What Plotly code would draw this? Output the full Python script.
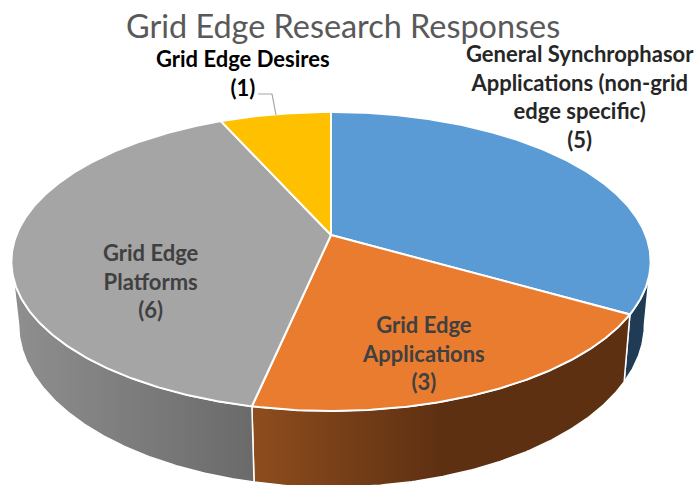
import math
import plotly.graph_objects as go

categories = ["General Synchrophasor Applications (non-grid edge specific)", "Grid Edge Applications", "Grid Edge Platforms", "Grid Edge Desires"]
values = [5, 3, 6, 1]
label_texts = [
    "General Synchrophasor<br>Applications (non-grid<br>edge specific)<br>(5)",
    "Grid Edge<br>Applications<br>(3)",
    "Grid Edge<br>Platforms<br>(6)",
    "Grid Edge Desires<br>(1)",
]
top_colors = ["#5b9bd5", "#ea7c30", "#a5a5a5", "#ffc000"]
wall_scales = [["#203c55", "#203c55"], ["#8e4d1e", "#5e3012", "#5e3012"], ["#8f8f8f", "#6a6a6a"], None]
label_xy = [(580, 96), (423, 353), (151, 281), (243, 73)]
label_colors = ["#262626", "#404040", "#404040", "#000000"]
title_text = "Grid Edge Research Responses"

# perspective projection of the pie disc
K = 0.177
TOP = dict(cx=331.0, cy=235.0, a=314.6, b=144.8)
BOT = dict(cx=331.5, cy=295.5, a=308.0, b=157.7)


def project(theta_deg, p):
    t = math.radians(theta_deg)
    u, v = math.sin(t), math.cos(t)
    d = 1 + K * v
    return p["cx"] + p["a"] * u / d, p["cy"] - p["b"] * v / d


def arc(t0, t1, p):
    n = max(2, int(abs(t1 - t0) * 2))
    pts = [project(t0 + (t1 - t0) * i / n, p) for i in range(n + 1)]
    return [q[0] for q in pts], [q[1] for q in pts]


total = sum(values)
edges = [0.0]
for val in values:
    edges.append(edges[-1] + 360.0 * val / total)

tangent = math.degrees(math.acos(-K))  # silhouette of the cylinder
fig = go.Figure()

# side walls
for i, scale in enumerate(wall_scales):
    if scale is None:
        continue
    t0 = max(edges[i], tangent)
    t1 = min(edges[i + 1], 360 - tangent)
    xa, ya = arc(t0, t1, TOP)
    xb, yb = arc(t1, t0, BOT)
    n = len(scale) - 1
    fig.add_trace(go.Scatter(
        x=xa + xb + xa[:1], y=ya + yb + ya[:1], mode="lines", fill="toself",
        fillgradient=dict(type="horizontal",
                          colorscale=[[j / n, c] for j, c in enumerate(scale)]),
        line=dict(color="#ffffff", width=1.5), hoverinfo="skip", showlegend=False,
    ))

# top faces
for i, cat in enumerate(categories):
    xa, ya = arc(edges[i], edges[i + 1], TOP)
    fig.add_trace(go.Scatter(
        x=[TOP["cx"]] + xa + [TOP["cx"]], y=[TOP["cy"]] + ya + [TOP["cy"]],
        mode="lines", fill="toself", fillcolor=top_colors[i],
        line=dict(color="#ffffff", width=2), name=cat, showlegend=False,
    ))

annotations = [dict(text=title_text, x=343, y=25, xref="x", yref="y", showarrow=False,
                    font=dict(family="Lato", size=32.4, color="#595959"))]
for txt, (lx, ly), col in zip(label_texts, label_xy, label_colors):
    annotations.append(dict(text=txt, x=lx, y=ly, xref="x", yref="y", showarrow=False,
                            align="center",
                            font=dict(family="Lato", size=22, color=col, weight="bold")))

fig.update_layout(
    width=698, height=485, margin=dict(l=0, r=0, t=0, b=0),
    paper_bgcolor="#ffffff", plot_bgcolor="#ffffff",
    xaxis=dict(range=[0, 698], visible=False, fixedrange=True),
    yaxis=dict(range=[485, 0], visible=False, fixedrange=True),
    annotations=annotations,
    shapes=[dict(type="path", path="M 258 94 L 272 94 L 276 115", xref="x", yref="y",
                 line=dict(color="#a6a6a6", width=1.2))],
)
fig.write_html("out.html", config=dict(displayModeBar=False),
               post_script="document.body.style.margin='0';document.documentElement.style.overflow='hidden';")
